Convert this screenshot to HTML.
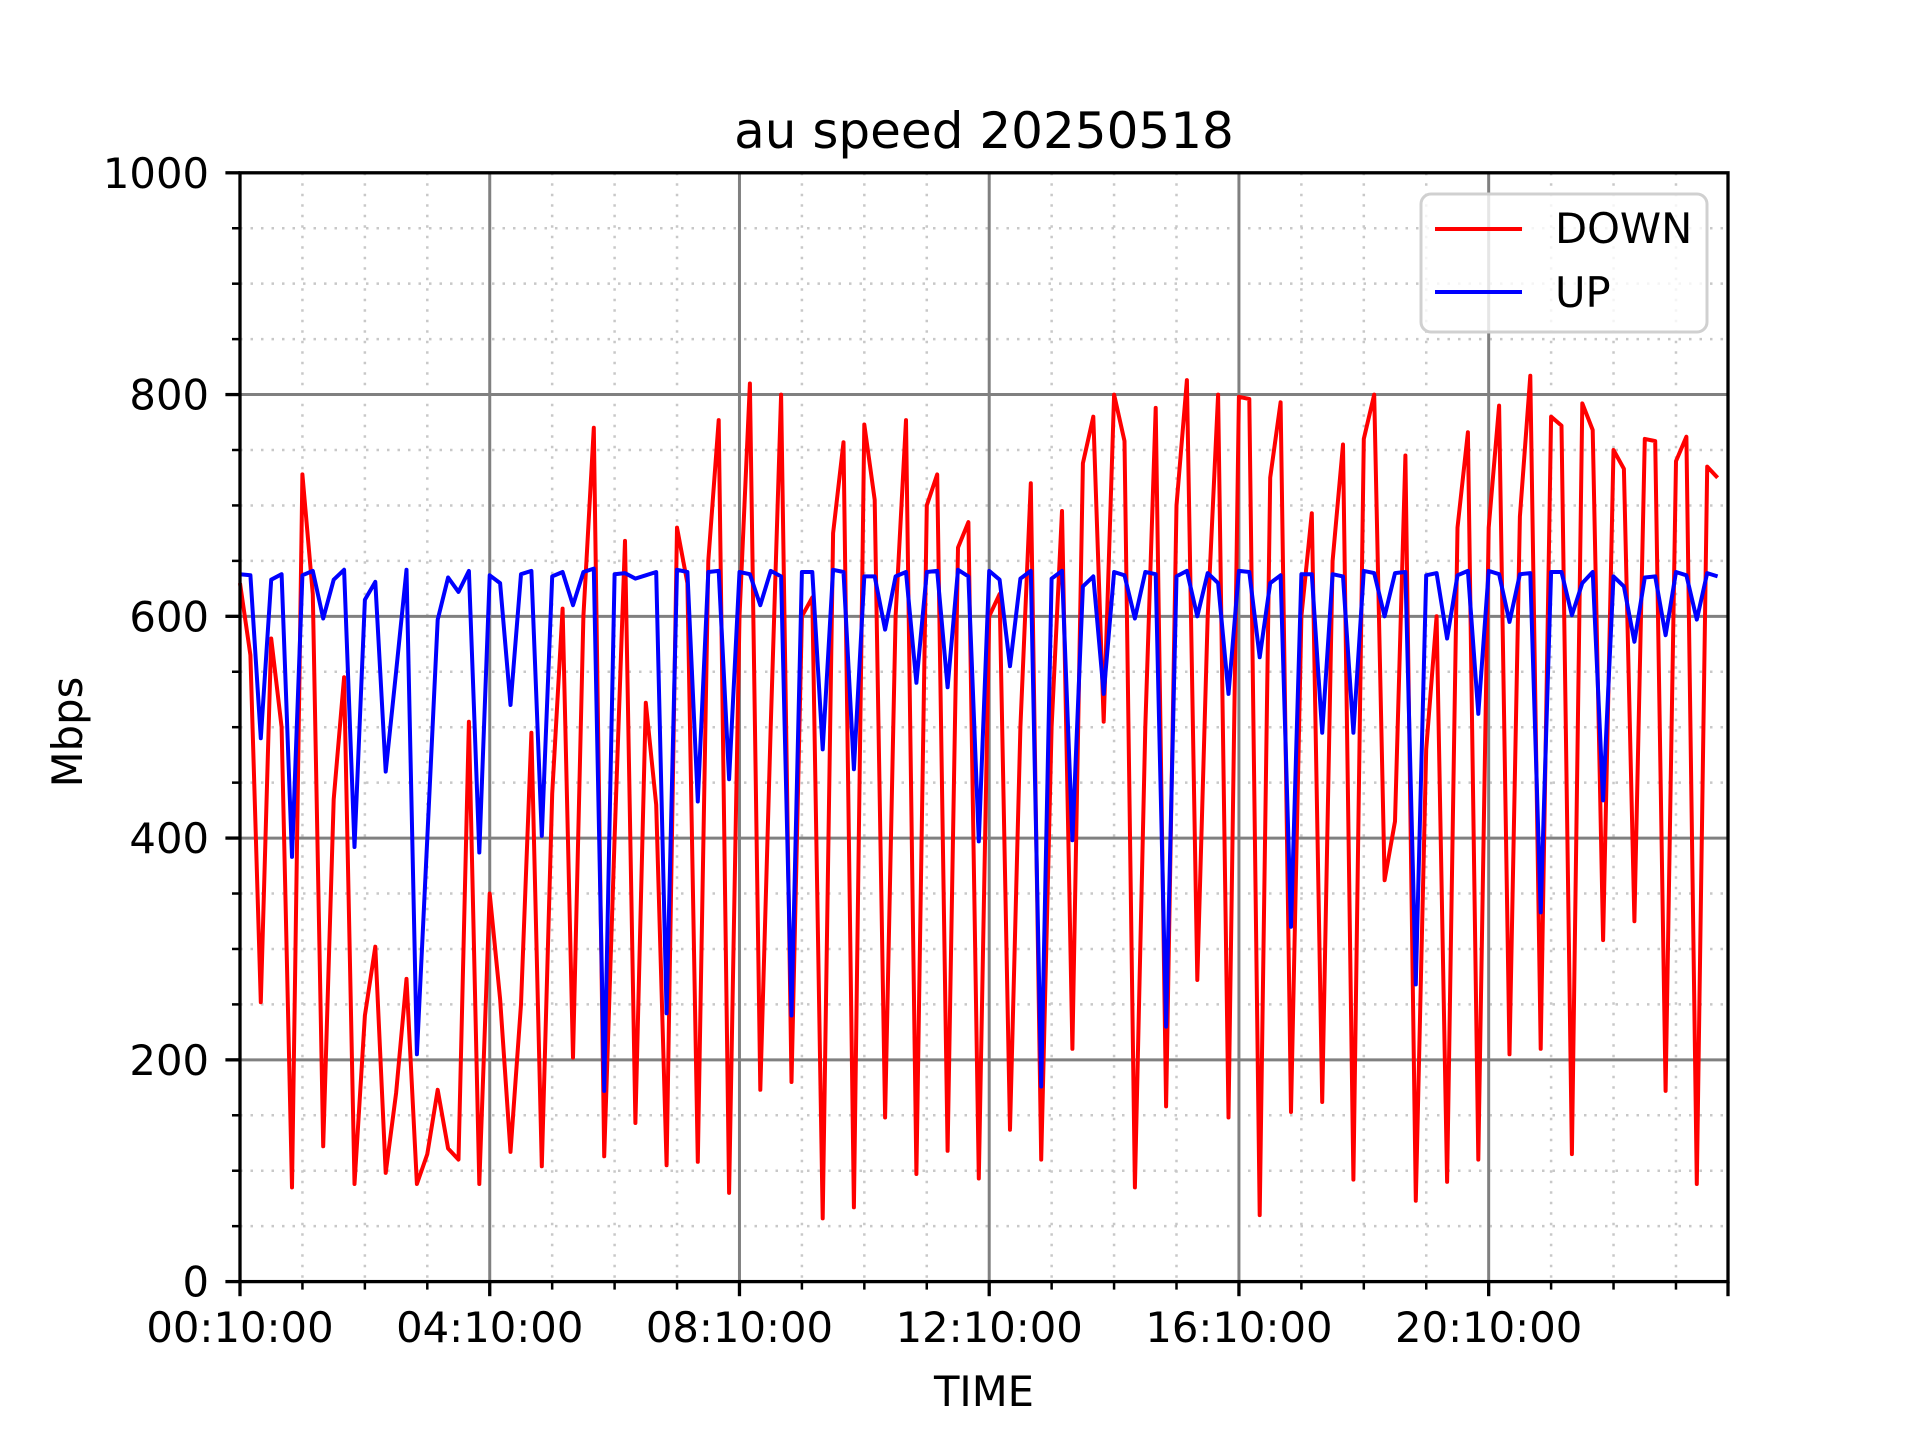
<!DOCTYPE html>
<html><head><meta charset="utf-8"><style>html,body{margin:0;padding:0;background:#fff}svg{display:block}text{font-family:"DejaVu Sans","Liberation Sans",sans-serif;fill:#000}</style></head>
<body>
<svg id="s" width="1920" height="1440" viewBox="0 0 1920 1440" xmlns="http://www.w3.org/2000/svg">
<rect width="1920" height="1440" fill="#fff"/>
<g id="grid"></g>
<polyline id="down" fill="none" stroke="#ff0000" stroke-width="4" stroke-linejoin="round"/>
<polyline id="up" fill="none" stroke="#0000ff" stroke-width="4" stroke-linejoin="round"/>
<rect x="240" y="172.8" width="1488" height="1108.8" fill="none" stroke="#000" stroke-width="3.3"/>
<g id="ticks"></g>
<text x="984" y="148" font-size="50" text-anchor="middle">au speed 20250518</text>
<text x="984" y="1406" font-size="41.7" text-anchor="middle">TIME</text>
<text transform="translate(82,732) rotate(-90)" font-size="41.7" text-anchor="middle">Mbps</text>
<rect x="1421" y="194" width="286" height="138" rx="10" fill="#fff" fill-opacity="0.8" stroke="#d0d0d0" stroke-width="3"/>
<line x1="1435" y1="229" x2="1522" y2="229" stroke="#ff0000" stroke-width="4"/>
<line x1="1435" y1="292" x2="1522" y2="292" stroke="#0000ff" stroke-width="4"/>
<text x="1555" y="243" font-size="41.7">DOWN</text>
<text x="1555" y="307" font-size="41.7">UP</text>
</svg>
<script>
var D=[630,565,252,580,500,85,728,620,122,435,545,88,240,302,98,170,273,88,115,173,120,110,505,88,350,255,117,250,495,104,440,607,202,600,770,113,400,668,143,522,430,105,680,630,108,650,777,80,600,810,173,500,800,180,600,617,57,675,757,67,773,705,148,600,777,97,700,728,118,662,685,93,600,620,137,500,720,110,500,695,210,738,780,505,800,758,85,500,788,158,700,813,272,600,800,148,798,796,60,725,793,153,600,693,162,650,755,92,760,800,362,415,745,73,480,600,90,680,766,110,680,790,205,690,817,210,780,772,115,792,768,308,750,733,325,760,758,172,740,762,88,735,725];
var U=[638,637,490,633,638,383,637,641,598,633,642,392,615,631,460,550,642,205,400,597,635,622,641,387,637,630,520,638,641,402,636,640,610,640,643,172,638,639,634,637,640,242,642,640,433,640,641,453,640,638,610,641,636,240,640,640,480,642,640,462,636,636,588,636,640,540,640,641,536,642,636,397,641,633,555,634,641,176,634,641,398,627,636,530,640,637,598,640,638,230,636,641,600,639,630,530,641,640,563,630,637,320,638,638,495,638,636,495,641,639,600,639,640,268,637,639,580,637,641,512,641,638,595,638,639,333,640,640,601,630,640,434,636,627,577,635,636,583,640,637,597,639,636];
var L=240,R=1728,T=172.8,B=1281.6,ph=(R-L)/23.8333;
function X(i){return L+i*ph/6}function Y(v){return B-v*(B-T)/1000}
function pts(a){return a.map(function(v,i){return X(i).toFixed(1)+','+Y(v).toFixed(1)}).join(' ')}
document.getElementById('down').setAttribute('points',pts(D));
document.getElementById('up').setAttribute('points',pts(U));
var g='',t='';
for(var v=50;v<1000;v+=50){var y=Y(v);if(v%200)g+='<line x1="'+L+'" x2="'+R+'" y1="'+y+'" y2="'+y+'" stroke="#c8c8c8" stroke-width="2.5" stroke-dasharray="2.5 8"/>';t+='<line x1="'+(L-8)+'" x2="'+L+'" y1="'+y+'" y2="'+y+'" stroke="#000" stroke-width="2.5"/>';}
for(var h=1;h<24;h++){var x=L+h*ph;if(h%4)g+='<line y1="'+T+'" y2="'+B+'" x1="'+x+'" x2="'+x+'" stroke="#c8c8c8" stroke-width="2.5" stroke-dasharray="2.5 8"/>';t+='<line y1="'+B+'" y2="'+(B+8)+'" x1="'+x+'" x2="'+x+'" stroke="#000" stroke-width="2.5"/>';}
for(var v=0;v<=1000;v+=200){var y=Y(v);if(v>0&&v<1000)g+='<line x1="'+L+'" x2="'+R+'" y1="'+y+'" y2="'+y+'" stroke="#808080" stroke-width="3"/>';t+='<line x1="'+(L-14.6)+'" x2="'+L+'" y1="'+y+'" y2="'+y+'" stroke="#000" stroke-width="3.3"/><text x="209" y="'+(y+15)+'" font-size="41.7" text-anchor="end">'+v+'</text>';}
var lab=['00:10:00','04:10:00','08:10:00','12:10:00','16:10:00','20:10:00'];
for(var k=0;k<6;k++){var x=L+k*4*ph;if(k>0)g+='<line y1="'+T+'" y2="'+B+'" x1="'+x+'" x2="'+x+'" stroke="#808080" stroke-width="3"/>';t+='<line y1="'+B+'" y2="'+(B+14.6)+'" x1="'+x+'" x2="'+x+'" stroke="#000" stroke-width="3.3"/><text x="'+x+'" y="1342" font-size="41.7" text-anchor="middle">'+lab[k]+'</text>';}
t+='<line y1="'+B+'" y2="'+(B+14.6)+'" x1="'+R+'" x2="'+R+'" stroke="#000" stroke-width="3.3"/>';
document.getElementById('grid').innerHTML=g;document.getElementById('ticks').innerHTML=t;
</script>
</body></html>
